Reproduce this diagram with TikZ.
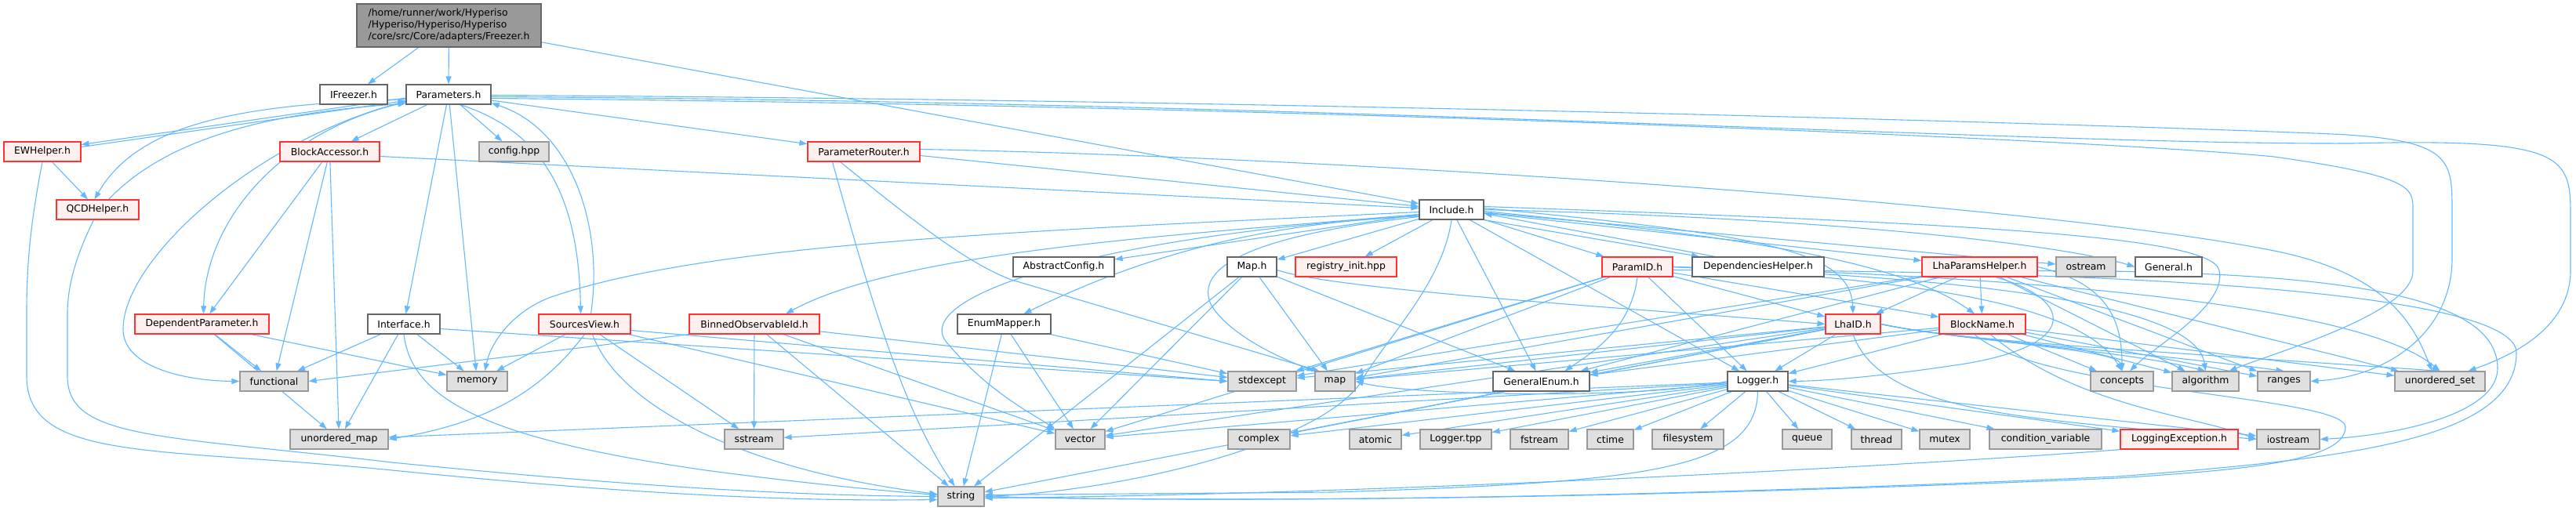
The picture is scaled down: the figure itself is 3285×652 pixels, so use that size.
\documentclass[tikz,border=0pt]{standalone}
\usepackage{fontspec}
\setmainfont{DejaVu Sans}
\usetikzlibrary{arrows.meta,backgrounds}
\definecolor{edgec}{HTML}{63B8FF}
\definecolor{rborder}{HTML}{FF3333}
\definecolor{rfill}{HTML}{FFF0F0}
\definecolor{gfill}{HTML}{E0E0E0}
\definecolor{gborder}{HTML}{999999}
\definecolor{wborder}{HTML}{666666}
\definecolor{rootfill}{HTML}{999999}
\newcommand{\nd}[6]{\node[#1, minimum width={(#4-#3)*1pt}] (#2) at ({(#3+#4)/2},{-#5}) {#6};}
\tikzset{
 box/.style={rectangle, inner sep=0pt, minimum height=25pt, line width=1.2pt, font=\fontsize{12.4}{15}\selectfont},
 wb/.style={box, draw=wborder, fill=white},
 gb/.style={box, draw=gborder, fill=gfill},
 rb/.style={box, draw=rborder, fill=rfill},
 e/.style={draw=edgec, line width=1.1pt, -{Triangle[length=10pt,width=7pt]}},
}
\begin{document}
\begin{tikzpicture}[x=1pt,y=1pt]
\useasboundingbox (0,0) rectangle (3285,-652);
\node[box, draw=wborder, fill=rootfill, minimum width=235pt, minimum height=55pt, align=left] (root) at (572.5,-32.5) {/home/runner/work/Hyperiso\\/Hyperiso/Hyperiso/Hyperiso\\/core/src/Core/adapters/Freezer.h};
\nd{wb}{ifreezer}{408}{494}{120.5}{IFreezer.h}
\nd{wb}{params}{518}{626}{120.5}{Parameters.h}
\nd{rb}{ewhelper}{5}{103}{193.5}{EWHelper.h}
\nd{rb}{blockacc}{357}{484}{193.5}{BlockAccessor.h}
\nd{gb}{config}{611}{700}{193.5}{config.hpp}
\nd{rb}{router}{1030}{1173}{193.5}{ParameterRouter.h}
\nd{rb}{qcd}{72}{177}{267.5}{QCDHelper.h}
\nd{wb}{include}{1810}{1892}{267.5}{Include.h}
\nd{wb}{abstract}{1292}{1421}{340.5}{AbstractConfig.h}
\nd{wb}{maph}{1565}{1628}{340.5}{Map.h}
\nd{rb}{registry}{1652}{1781}{340.5}{registry\_init.hpp}
\nd{rb}{paramid}{2043}{2133}{340.5}{ParamID.h}
\nd{wb}{deps}{2158}{2326}{340.5}{DependenciesHelper.h}
\nd{rb}{lhaparams}{2451}{2598}{340.5}{LhaParamsHelper.h}
\nd{gb}{ostream}{2622}{2698}{340.5}{ostream}
\nd{wb}{general}{2723}{2808}{340.5}{General.h}
\nd{rb}{deppar}{172}{343}{413.5}{DependentParameter.h}
\nd{wb}{interface}{469}{561}{413.5}{Interface.h}
\nd{rb}{sources}{687}{804}{413.5}{SourcesView.h}
\nd{rb}{binned}{879}{1045}{413.5}{BinnedObservableId.h}
\nd{wb}{enummap}{1221}{1340}{413.5}{EnumMapper.h}
\nd{rb}{lhaid}{2328}{2398}{413.5}{LhaID.h}
\nd{rb}{blockname}{2473}{2583}{413.5}{BlockName.h}
\nd{gb}{functional}{306}{393}{486.5}{functional}
\nd{gb}{memory}{570}{647}{486.5}{memory}
\nd{gb}{stdexcept}{1566}{1653}{486.5}{stdexcept}
\nd{gb}{map}{1677}{1728}{486.5}{map}
\nd{wb}{genenum}{1904}{2027}{486.5}{GeneralEnum.h}
\nd{wb}{logger}{2203}{2280}{486.5}{Logger.h}
\nd{gb}{concepts}{2666}{2746}{486.5}{concepts}
\nd{gb}{algorithm}{2770}{2855}{486.5}{algorithm}
\nd{gb}{ranges}{2879}{2946}{486.5}{ranges}
\nd{gb}{uset}{3054}{3169}{486.5}{unordered\_set}
\nd{gb}{umap}{370}{495}{560.5}{unordered\_map}
\nd{gb}{sstream}{924}{999}{560.5}{sstream}
\nd{gb}{vector}{1346}{1409}{560.5}{vector}
\nd{gb}{complex}{1566}{1645}{560.5}{complex}
\nd{gb}{atomic}{1721}{1787}{560.5}{atomic}
\nd{gb}{loggertpp}{1811}{1902}{560.5}{Logger.tpp}
\nd{gb}{fstream}{1926}{2000}{560.5}{fstream}
\nd{gb}{ctime}{2024}{2083}{560.5}{ctime}
\nd{gb}{filesystem}{2107}{2198}{560.5}{filesystem}
\nd{gb}{queue}{2273}{2336}{560.5}{queue}
\nd{gb}{thread}{2361}{2425}{560.5}{thread}
\nd{gb}{mutex}{2448}{2512}{560.5}{mutex}
\nd{gb}{condvar}{2537}{2680}{560.5}{condition\_variable}
\nd{rb}{loggingex}{2704}{2854}{560.5}{LoggingException.h}
\nd{gb}{iostream}{2878}{2958}{560.5}{iostream}
\nd{gb}{string}{1196}{1255}{633.5}{string}

\begin{scope}[on background layer]
% root
\draw[e] (root) -- (ifreezer);
\draw[e] (root) -- (params);
\draw[e] (root) -- (include);
% Parameters.h
\foreach \t in {blockacc,config,interface,memory,router} \draw[e] (params) -- (\t);
\draw[e] ([yshift=-4.5pt]params.west) -- ([yshift=9pt]ewhelper.east);
\draw[e] ([yshift=6pt]ewhelper.east) -- ([yshift=-8pt]params.west);
\draw[e] ([yshift=-6pt]params.west) .. controls (330,-133) and (180,-150) .. ([xshift=-4pt]qcd.north);
\draw[e] ([xshift=14pt]qcd.north) .. controls (210,-180) and (330,-145) .. ([yshift=1.5pt]params.south west);
\draw[e] ([yshift=-10pt]params.west) .. controls (360,-165) and (262,-280) .. ([xshift=2pt]deppar.north);
\draw[e] ([yshift=-9pt]params.west) .. controls (330,-175) and (157,-330) .. (157,-420) .. controls (157,-470) and (240,-486) .. (functional.west);
\draw[e] ([xshift=15pt]params.south) .. controls (700,-170) and (738,-260) .. ([xshift=-5pt]sources.north);
\draw[e] ([xshift=8pt]sources.north) .. controls (770,-290) and (730,-165) .. ([yshift=2pt]params.south east);
\draw[e] ([yshift=-1pt]params.east) .. controls (1700,-128) and (2700,-160) .. (2950,-170) .. controls (3127,-176) and (3127,-200) .. (3127,-270) -- (3127,-330) .. controls (3127,-420) and (3050,-480) .. (ranges.east);
\draw[e] ([yshift=-3pt]params.east) .. controls (1700,-130) and (2600,-185) .. (3000,-183) .. controls (3278,-176) and (3278,-200) .. (3278,-280) -- (3278,-345) .. controls (3278,-420) and (3200,-455) .. ([xshift=36pt]uset.north);
\draw[e] ([yshift=-5pt]params.east) .. controls (1700,-135) and (2700,-180) .. (2900,-200) .. controls (3077,-225) and (3077,-240) .. (3077,-267) -- (3077,-346) .. controls (3077,-400) and (2900,-450) .. ([xshift=30pt]algorithm.north);
% EWHelper, QCDHelper
\draw[e] (ewhelper) -- (qcd);
\draw[e] (ewhelper.south) .. controls (40,-280) and (34,-330) .. (34,-400) -- (34,-480) .. controls (34,-590) and (200,-570) .. (500,-600) .. controls (800,-630) and (1000,-640) .. ([yshift=-4pt]string.west);
\draw[e] ([xshift=-5pt]qcd.south) .. controls (100,-320) and (86,-360) .. (86,-400) -- (86,-480) .. controls (86,-560) and (200,-555) .. (500,-590) .. controls (800,-620) and (1000,-632) .. (string.west);
% BlockAccessor
\foreach \t in {deppar,functional,umap} \draw[e] (blockacc) -- (\t);
\draw[e] ([yshift=-6pt]blockacc.east) -- (include);
% DependentParameter
\foreach \t in {functional,umap,memory} \draw[e] (deppar) -- (\t);
% Interface
\foreach \t in {functional,umap,memory} \draw[e] (interface) -- (\t);
\draw[e] ([yshift=-6pt]interface.east) -- (stdexcept.west);
\draw[e] (interface.south) .. controls (525,-510) and (620,-560) .. (900,-600) .. controls (1050,-620) and (1150,-628) .. ([yshift=2pt]string.west);
% SourcesView
\foreach \t in {memory,sstream,vector} \draw[e] (sources) -- (\t);
\draw[e] (sources.south) .. controls (690,-500) and (620,-540) .. (umap.east);
\draw[e] ([yshift=-8pt]sources.east) -- (stdexcept.west);
\draw[e] ([xshift=10pt]sources.south) .. controls (790,-520) and (950,-600) .. ([yshift=3pt]string.west);
% BinnedObservableId
\draw[e] (binned.south west) -- (functional.east);
\foreach \t in {sstream,string,vector,stdexcept} \draw[e] (binned) -- (\t);
% ParameterRouter
\draw[e] ([yshift=-5pt]router.east) -- (include);
\draw[e] ([xshift=-40pt]router.south) .. controls (1110,-380) and (1150,-520) .. ([xshift=-8pt]string.north);
\draw[e] ([xshift=-30pt]router.south) .. controls (1150,-270) and (1230,-335) .. (1290,-357) -- ([xshift=-20pt]map.north);
\draw[e] ([yshift=3pt]router.east) .. controls (1700,-200) and (2600,-260) .. (2900,-320) .. controls (3050,-350) and (3080,-420) .. ([xshift=-10pt]uset.north);
% Include.h
\foreach \t in {abstract,maph,registry,paramid,lhaparams,ostream,genenum,logger} \draw[e] (include) -- (\t);
\draw[e] (include.south east) -- ([xshift=-75pt]deps.north);
\draw[e] ([xshift=-55pt]deps.north) -- ([yshift=-5pt]include.east);
\draw[e] (include.east) .. controls (2400,-280) and (2650,-318) .. (general.west);
\draw[e] ([yshift=2pt]include.east) .. controls (2250,-300) and (2360,-320) .. (lhaid.north);
\draw[e] ([yshift=-2pt]include.east) .. controls (2200,-300) and (2420,-330) .. ([xshift=-10pt]blockname.north);
\draw[e] ([yshift=4pt]include.east) .. controls (2500,-285) and (2820,-300) .. (2830,-345) .. controls (2840,-390) and (2750,-440) .. ([xshift=10pt]concepts.north);
\draw[e] ([yshift=-8pt]include.west) .. controls (1600,-285) and (1450,-330) .. ([xshift=25pt]enummap.north);
\draw[e] ([yshift=-6pt]include.west) .. controls (1500,-300) and (1150,-320) .. ([xshift=40pt]binned.north);
\draw[e] ([yshift=-3pt]include.west) .. controls (1300,-295) and (900,-310) .. (700,-380) .. controls (650,-400) and (625,-440) .. ([xshift=10pt]memory.north);
\draw[e] (include.south) .. controls (1840,-360) and (1770,-430) .. (1740,-480) .. controls (1700,-560) and (1450,-625) .. (string.east);
\draw[e] ([yshift=-8pt]include.west) .. controls (1400,-300) and (1150,-380) .. (1210,-440) .. controls (1260,-500) and (1320,-530) .. (vector.north west);
\draw[e] ([yshift=-9pt]include.west) .. controls (1600,-300) and (1520,-340) .. (1545,-390) .. controls (1570,-430) and (1640,-460) .. (map.north west);
% Map.h, EnumMapper
\foreach \t in {genenum,map,vector,string} \draw[e] (maph) -- (\t);
\draw[e] ([yshift=-4pt]maph.east) .. controls (1700,-370) and (2100,-395) .. (lhaid.west);
\foreach \t in {string,vector,stdexcept} \draw[e] (enummap) -- (\t);
% ParamID
\foreach \t in {lhaid,blockname,logger,map,stdexcept,vector} \draw[e] (paramid) -- (\t);
\draw[e] (paramid.south) .. controls (2080,-420) and (2030,-450) .. ([xshift=30pt]genenum.north);
\draw[e] (paramid.east) .. controls (2400,-355) and (2650,-380) .. (concepts.north);
\draw[e] (paramid.east) .. controls (2500,-350) and (3000,-380) .. (uset.north);
\draw[e] (paramid.east) .. controls (2450,-352) and (2800,-380) .. (algorithm.north);
\draw[e] ([yshift=-4pt]paramid.east) .. controls (2800,-345) and (3209,-380) .. (3209,-450) .. controls (3209,-560) and (3000,-585) .. (2700,-608) .. controls (2000,-640) and (1500,-640) .. (string.east);
% LhaID
\foreach \t in {logger,map,stdexcept,genenum,vector,string,complex} \draw[e] (lhaid) -- (\t);
\foreach \t in {concepts,algorithm,ranges,uset} \draw[e] (lhaid.east) .. controls (2500,-435) and (2700,-445) .. (\t.north);
\draw[e] (lhaid.south) .. controls (2400,-530) and (2600,-535) .. (iostream.west);
% BlockName
\foreach \t in {logger,map,genenum,concepts,algorithm,ranges,uset} \draw[e] (blockname) -- (\t);
\draw[e] ([xshift=10pt]blockname.south) .. controls (2650,-520) and (2800,-530) .. (iostream.west);
\draw[e] ([xshift=-10pt]blockname.south) .. controls (2600,-500) and (2991,-505) .. (2991,-545) .. controls (2991,-590) and (2850,-600) .. (2700,-610) .. controls (2000,-640) and (1500,-640) .. (string.east);
% LhaParamsHelper
\foreach \t in {blockname,lhaid,map,stdexcept,genenum,algorithm,ranges,uset} \draw[e] (lhaparams) -- (\t);
\draw[e] ([xshift=20pt]lhaparams.south) .. controls (2640,-380) and (2660,-440) .. (2500,-465) .. controls (2400,-480) and (2330,-486) .. (logger.east);
\draw[e] (lhaparams.east) .. controls (2680,-360) and (2706,-400) .. (concepts.north);
\draw[e] ([yshift=-5pt]lhaparams.east) .. controls (3000,-345) and (3185,-380) .. (3185,-470) .. controls (3185,-530) and (3050,-556) .. (iostream.east);
% Logger.h
\foreach \t in {umap,sstream,vector,complex,atomic,loggertpp,fstream,ctime,filesystem,queue,thread,mutex,condvar,loggingex,iostream} \draw[e] (logger) -- (\t);
\draw[e] (logger.west) .. controls (2100,-510) and (1800,-505) .. (map.east);
\draw[e] (logger.south) .. controls (2240,-600) and (2100,-615) .. (1700,-628) -- ([yshift=2pt]string.east);
\draw[e] (loggingex.south west) .. controls (2500,-590) and (1800,-630) .. ([yshift=-2pt]string.east);
\end{scope}
\end{tikzpicture}
\end{document}
